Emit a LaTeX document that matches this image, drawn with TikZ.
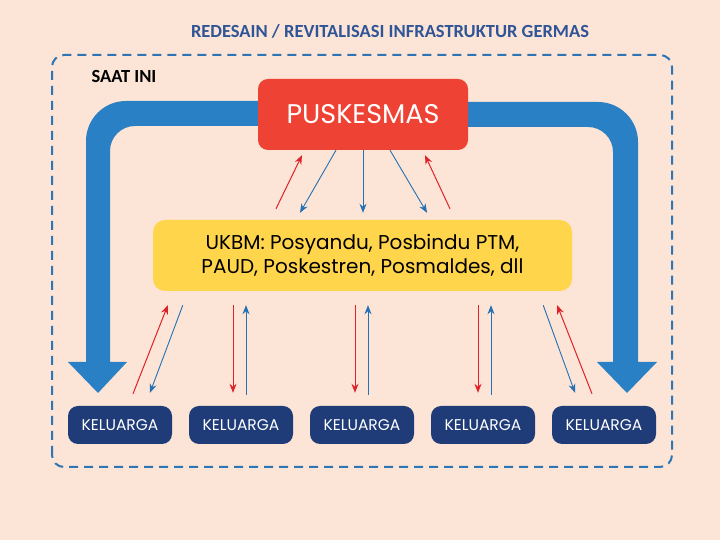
\documentclass[tikz,border=0pt]{standalone}
\usepackage{fontspec}
\setmainfont{Carlito}
\newfontfamily\geofont{Poppins}
\usetikzlibrary{arrows.meta,calc}

\definecolor{bgpeach}{HTML}{FCE4D6}
\definecolor{titleblue}{HTML}{2F5597}
\definecolor{frameblue}{HTML}{2E75B6}
\definecolor{bigblue}{HTML}{2A80C4}
\definecolor{pkmred}{HTML}{EE4234}
\definecolor{ukbmyellow}{HTML}{FFD54C}
\definecolor{kelnavy}{HTML}{1F3C78}
\definecolor{arrred}{HTML}{E02129}
\definecolor{arrblue}{HTML}{2371B4}

\tikzset{
  box/.style={rounded corners=10pt, inner sep=0pt, align=center},
  kelbox/.style={box, fill=kelnavy, text=white, minimum width=104pt, minimum height=38pt,
    font=\geofont\fontsize{15.5}{18}\selectfont},
  redarr/.style={draw=arrred, line width=1pt, -{Stealth[length=9pt,width=7pt]}},
  bluearr/.style={draw=arrblue, line width=0.9pt, -{Stealth[length=9pt,width=7pt]}}
}

\begin{document}
\begin{tikzpicture}[x=1pt,y=1pt]
\useasboundingbox (0,0) rectangle (720,540);
\fill[bgpeach] (0,0) rectangle (720,540);

\node[text=titleblue, font=\bfseries\fontsize{18.5}{22}\selectfont] (title) at (390,509)
 {REDESAIN / REVITALISASI INFRASTRUKTUR GERMAS};
\draw[frameblue, line width=2pt, dash pattern=on 9pt off 6pt, rounded corners=12pt]
 (52,73) rectangle (672,485);
\node[anchor=west, font=\bfseries\fontsize{18.5}{22}\selectfont] (saat) at (88,463) {SAAT INI};

\fill[bigblue] (258,439) -- (126,439) arc[start angle=90,end angle=180,radius=40]
 -- (86,178) -- (68,178) -- (98,147) -- (127,178) -- (110,178) -- (110,389)
 arc[start angle=180,end angle=90,radius=25] -- (258,414) -- cycle;
\fill[bigblue] (468,438) -- (598,438) arc[start angle=90,end angle=0,radius=40]
 -- (638,178) -- (657,178) -- (627,147) -- (597,178) -- (613,178) -- (613,388)
 arc[start angle=0,end angle=90,radius=25] -- (468,413) -- cycle;

\node[box, fill=pkmred, text=white, minimum width=210pt, minimum height=71pt,
 font=\geofont\fontsize{27}{30}\selectfont] (pkm) at (363,425.5) {PUSKESMAS};
\node[box, rounded corners=12pt, fill=ukbmyellow, minimum width=419pt, minimum height=71pt,
 font=\geofont\fontsize{20}{24}\selectfont] (ukbm) at (362.5,284.5)
 {UKBM: Posyandu, Posbindu PTM,\\PAUD, Poskestren, Posmaldes, dll};

\node[kelbox] (k1) at (120,115) {KELUARGA};
\node[kelbox] (k2) at (241,115) {KELUARGA};
\node[kelbox] (k3) at (362,115) {KELUARGA};
\node[kelbox] (k4) at (483,115) {KELUARGA};
\node[kelbox] (k5) at (604,115) {KELUARGA};

\draw[redarr] ($(ukbm.north)+(-86.5,11)$) -- ($(pkm.south)+(-61,-5)$);
\draw[bluearr] ($(pkm.south)+(-27,0)$) -- ($(ukbm.north)+(-62.5,7)$);
\draw[bluearr] (pkm.south) -- ($(ukbm.north)+(0.5,7)$);
\draw[bluearr] ($(pkm.south)+(27,0)$) -- ($(ukbm.north)+(64.5,7)$);
\draw[redarr] ($(ukbm.north)+(87.5,11)$) -- ($(pkm.south)+(62,-5)$);

\draw[redarr] ($(k1.north)+(13,12)$) -- ($(ukbm.south west)+(15,-14)$);
\draw[bluearr] ($(ukbm.south west)+(30,-14)$) -- ($(k1.north)+(30,13)$);
\draw[redarr] ($(k2.north |- ukbm.south)+(-8,-14)$) -- ($(k2.north)+(-8,13)$);
\draw[bluearr] ($(k2.north)+(5,11)$) -- ($(k2.north |- ukbm.south)+(5,-14)$);
\draw[redarr] ($(k3.north |- ukbm.south)+(-7,-14)$) -- ($(k3.north)+(-7,13)$);
\draw[bluearr] ($(k3.north)+(6,11)$) -- ($(k3.north |- ukbm.south)+(6,-14)$);
\draw[redarr] ($(k4.north |- ukbm.south)+(-5,-14)$) -- ($(k4.north)+(-5,13)$);
\draw[bluearr] ($(k4.north)+(8,11)$) -- ($(k4.north |- ukbm.south)+(8,-14)$);
\draw[bluearr] ($(ukbm.south east)+(-29,-14)$) -- ($(k5.north)+(-29,13)$);
\draw[redarr] ($(k5.north)+(-12,12)$) -- ($(ukbm.south east)+(-15,-14)$);
\end{tikzpicture}
\end{document}
